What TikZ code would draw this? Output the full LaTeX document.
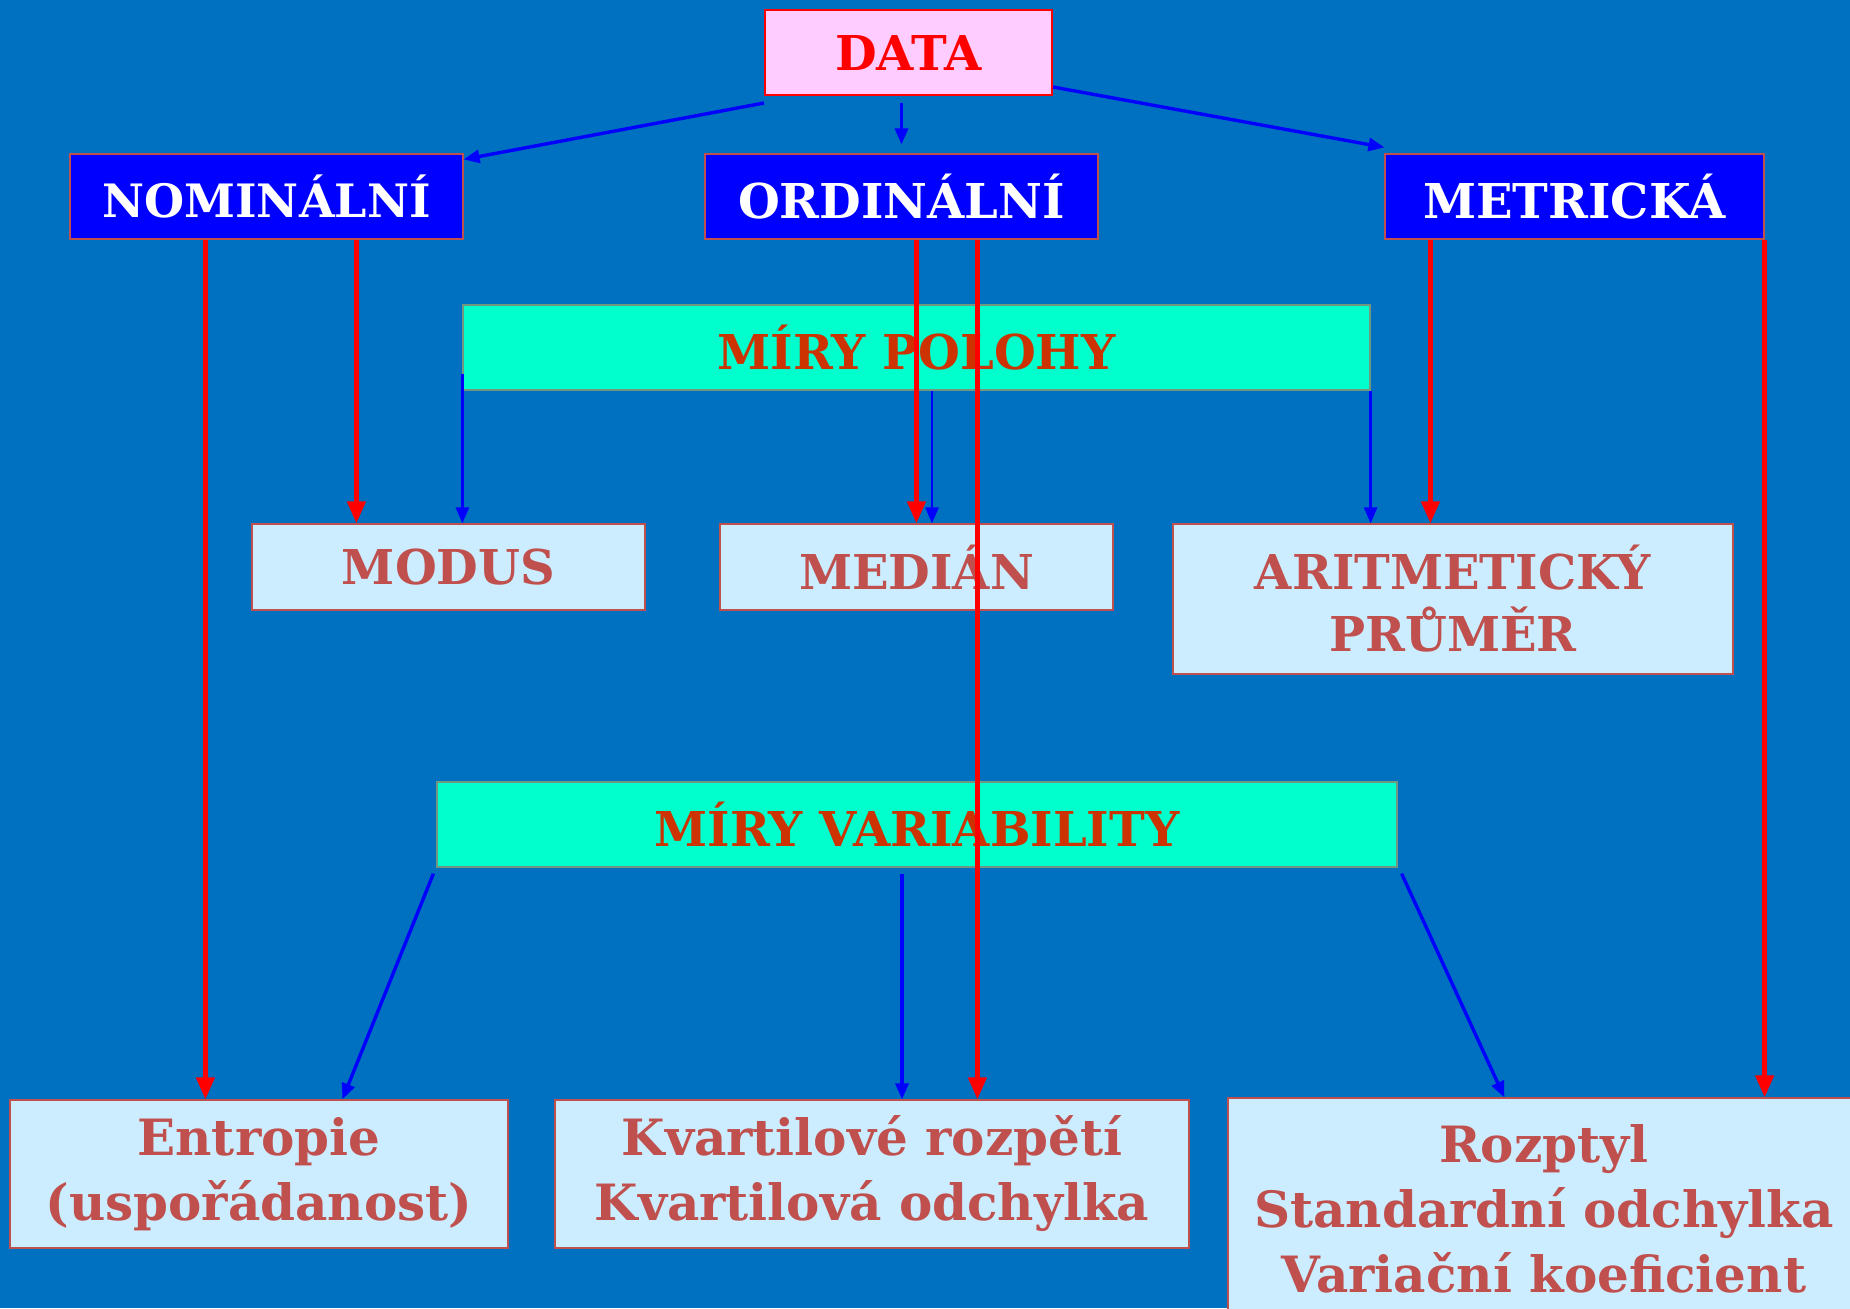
\documentclass[tikz,border=0pt]{standalone}
\usepackage{fontspec}
\setmainfont{DejaVu Serif}
\usetikzlibrary{arrows.meta}
\definecolor{bg}{HTML}{0070C0}
\definecolor{boxblue}{HTML}{0000FF}
\definecolor{pinkfill}{HTML}{FFCCFF}
\definecolor{cyanfill}{HTML}{00FFCC}
\definecolor{lightfill}{HTML}{CCECFF}
\definecolor{brick}{HTML}{C0504D}
\definecolor{rust}{HTML}{CC3300}
\definecolor{purered}{HTML}{FF0000}
\tikzset{
  base/.style={rectangle, inner sep=0pt, align=center, font=\bfseries\fontsize{24}{31}\selectfont},
  databox/.style={base, fill=pinkfill, draw=purered, line width=1pt, text=purered},
  typebox/.style={base, fill=boxblue, draw=brick, line width=0.6pt, text=white},
  measbox/.style={base, fill=cyanfill, draw=brick!60!cyanfill, line width=0.6pt, text=rust},
  resbox/.style={base, fill=lightfill, draw=brick, line width=0.6pt, text=brick},
  lowbox/.style={resbox, font=\bfseries\fontsize{25}{32.5}\selectfont},
  redarr/.style={draw=purered, line width=2.2pt, -{Triangle[length=11pt,width=9pt]}},
  bluearr/.style={draw=boxblue, line width=1.7pt, -{Triangle[length=8pt,width=6.5pt]}},
  thinarr/.style={draw=boxblue, line width=1.3pt, -{Triangle[length=8pt,width=6.5pt]}},
}
\begin{document}
\begin{tikzpicture}[x=0.5pt,y=-0.5pt]
\fill[bg] (0,0) rectangle (1850,1308);
\useasboundingbox (0,0) rectangle (1850,1308);

\node[databox, minimum width=143.5pt, minimum height=42.5pt] (data) at (908.5,52.5) {DATA};
\node[typebox, minimum width=196.5pt, minimum height=42.5pt, font=\bfseries\fontsize{23}{30}\selectfont] (nom) at (266.5,196.5) {NOMINÁLNÍ};
\node[typebox, minimum width=196.5pt, minimum height=42.5pt] (ord) at (901.5,196.5) {ORDINÁLNÍ};
\node[typebox, minimum width=189.5pt, minimum height=42.5pt] (met) at (1574.5,196.5) {METRICKÁ};

\node[measbox, minimum width=453.5pt, minimum height=42.5pt] (pol) at (916.5,347.5) {MÍRY POLOHY};
\node[resbox, minimum width=196.5pt, minimum height=43pt] (mod) at (448.5,567) {MODUS};
\node[resbox, minimum width=196.5pt, minimum height=43pt] (med) at (916.5,567) {MEDIÁN};
\node[resbox, minimum width=280pt, minimum height=75pt] (ari) at (1453,599) {ARITMETICKÝ\\PRŮMĚR};

\node[measbox, minimum width=480pt, minimum height=42.5pt] (var) at (917,824.5) {MÍRY VARIABILITY};
\node[lowbox, minimum width=249pt, minimum height=74pt] (ent) at (259,1174) {Entropie\\(uspořádanost)};
\node[lowbox, minimum width=317pt, minimum height=74pt] (kva) at (872,1174) {Kvartilové rozpětí\\Kvartilová odchylka};
\node[lowbox, minimum width=316pt, minimum height=111pt] (roz) at (1544,1209) {Rozptyl\\Standardní odchylka\\Variační koeficient};

% from DATA
\draw[bluearr] ([yshift=-3.5pt]data.south west) -- ([yshift=-3pt]nom.north east);
\draw[bluearr] ([yshift=-3.5pt]ord.north |- data.south) -- ([yshift=4.5pt]ord.north);
\draw[bluearr] ([yshift=4.5pt]data.south east) -- ([yshift=3pt]met.north west);

% from MIRY POLOHY
\draw[thinarr] ([yshift=8.5pt]pol.south west) -- (pol.south west |- mod.north);
\draw[thinarr] ([xshift=7.75pt]pol.south) -- ([xshift=7.75pt]pol.south |- med.north);
\draw[thinarr] (pol.south east) -- (pol.south east |- ari.north);

% from MIRY VARIABILITY
\draw[bluearr] ([xshift=-1.5pt,yshift=-3pt]var.south west) -- ([xshift=166.5pt]ent.north west);
\draw[bluearr] ([xshift=-7.5pt,yshift=-3pt]var.south) -- ([xshift=15pt]kva.north);
\draw[bluearr] ([xshift=2pt,yshift=-3pt]var.south east) -- ([xshift=138.5pt]roz.north west);

% red from types
\draw[redarr] ([xshift=68pt]nom.south west) -- ([xshift=68pt]nom.south west |- ent.north);
\draw[redarr] ([xshift=143.5pt]nom.south west) -- ([xshift=143.5pt]nom.south west |- mod.north);
\draw[redarr] ([xshift=106pt]ord.south west) -- ([xshift=106pt]ord.south west |- med.north);
\draw[redarr] ([xshift=136.5pt]ord.south west) -- ([xshift=136.5pt]ord.south west |- kva.north);
\draw[redarr] ([xshift=23pt]met.south west) -- ([xshift=23pt]met.south west |- ari.north);
\draw[redarr] (met.south east) -- (met.south east |- roz.north);
\end{tikzpicture}
\end{document}
